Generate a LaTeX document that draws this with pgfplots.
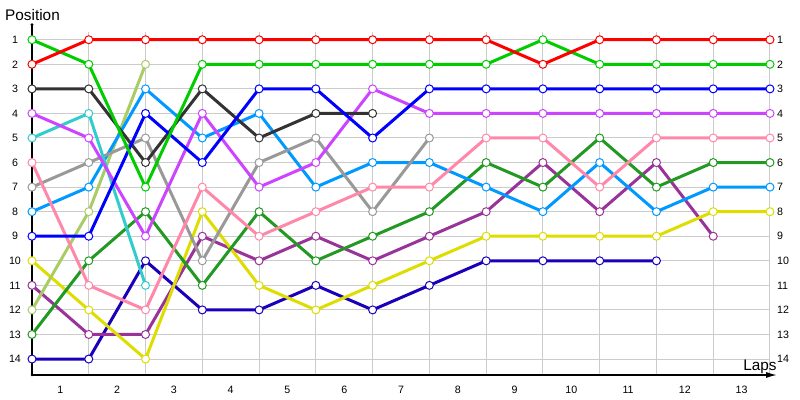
\documentclass[border=0pt]{standalone}
\usepackage{fontspec}
\setmainfont{Liberation Sans}
\usepackage{pgfplots}
\pgfplotsset{compat=1.18}
\usetikzlibrary{arrows.meta}
\definecolor{cred}{HTML}{FF0000}
\definecolor{cgreen}{HTML}{00CC00}
\definecolor{cblue}{HTML}{0000FF}
\definecolor{cdark}{HTML}{333333}
\definecolor{cmag}{HTML}{CC44FF}
\definecolor{ccyan}{HTML}{33CCCC}
\definecolor{cpink}{HTML}{FF88AA}
\definecolor{cgray}{HTML}{999999}
\definecolor{clblue}{HTML}{0099FF}
\definecolor{cdgreen}{HTML}{229922}
\definecolor{colive}{HTML}{AACC66}
\definecolor{cyellow}{HTML}{DDDD00}
\definecolor{cdpurple}{HTML}{993399}
\definecolor{cnavy}{HTML}{1A00BB}
\definecolor{cgrid}{HTML}{CCCCCC}
\pgfplotsset{
  ser/.style={color=#1, line width=2.25pt, mark=*, mark size=3pt,
    mark options={fill=white, line width=0.75pt, solid}},
}
\begin{document}
\begin{tikzpicture}
\begin{axis}[
  scale only axis, width=558.6pt, height=262.5pt,
  xmin=0, xmax=13.12, ymin=0.4, ymax=14.65, y dir=reverse,
  axis lines=none, clip=false,
]
\coordinate (O) at (axis cs:0,14.65);
% grid
\pgfplotsinvokeforeach{1,...,13}{
  \draw[cgrid, line width=0.75pt] (axis cs:#1,0.67) -- (axis cs:#1,14.65);
}
\pgfplotsinvokeforeach{1,...,14}{
  \draw[cgrid, line width=0.75pt] (axis cs:0,#1) -- (axis cs:13,#1);
  \node[font=\fontsize{8}{9}\selectfont] at (axis cs:-0.3,#1) {#1};
  \node[font=\fontsize{8}{9}\selectfont, anchor=west, inner sep=0pt] at (axis cs:13.12,#1) {#1};
}
\pgfplotsinvokeforeach{1,...,13}{
  \node[font=\fontsize{8}{9}\selectfont] at (axis cs:#1-0.5,15.26) {#1};
}
% axes
\draw[black, line width=0.9pt] (axis cs:0,14.65) -- (axis cs:0,0.39);
\fill[black] (axis cs:0,0.39) circle (1.3pt);
\fill[black] (axis cs:0,14.65) circle (1.1pt);
\draw[black, line width=0.9pt, -{Latex[length=8pt,width=4.5pt]}] (axis cs:0,14.65) -- (axis cs:13.12,14.65);
\node[anchor=west, inner sep=0pt, font=\fontsize{11.5}{13}\selectfont] at (axis cs:-0.476,-0.02) {Position};
\node[anchor=east, inner sep=0pt, font=\fontsize{11.5}{13}\selectfont] at (axis cs:13.12,14.33) {Laps};
% series
\addplot[ser=cnavy] coordinates {(0,14)(1,14)(2,10)(3,12)(4,12)(5,11)(6,12)(7,11)(8,10)(9,10)(10,10)(11,10)};
\addplot[ser=cdpurple] coordinates {(0,11)(1,13)(2,13)(3,9)(4,10)(5,9)(6,10)(7,9)(8,8)(9,6)(10,8)(11,6)(12,9)};
\addplot[ser=cyellow] coordinates {(0,10)(1,12)(2,14)(3,8)(4,11)(5,12)(6,11)(7,10)(8,9)(9,9)(10,9)(11,9)(12,8)(13,8)};
\addplot[ser=colive] coordinates {(0,12)(1,8)(2,2)};
\addplot[ser=cdgreen] coordinates {(0,13)(1,10)(2,8)(3,11)(4,8)(5,10)(6,9)(7,8)(8,6)(9,7)(10,5)(11,7)(12,6)(13,6)};
\addplot[ser=clblue] coordinates {(0,8)(1,7)(2,3)(3,5)(4,4)(5,7)(6,6)(7,6)(8,7)(9,8)(10,6)(11,8)(12,7)(13,7)};
\addplot[ser=cgray] coordinates {(0,7)(1,6)(2,5)(3,10)(4,6)(5,5)(6,8)(7,5)};
\addplot[ser=cpink] coordinates {(0,6)(1,11)(2,12)(3,7)(4,9)(5,8)(6,7)(7,7)(8,5)(9,5)(10,7)(11,5)(12,5)(13,5)};
\addplot[ser=ccyan] coordinates {(0,5)(1,4)(2,11)};
\addplot[ser=cmag] coordinates {(0,4)(1,5)(2,9)(3,4)(4,7)(5,6)(6,3)(7,4)(8,4)(9,4)(10,4)(11,4)(12,4)(13,4)};
\addplot[ser=cdark] coordinates {(0,3)(1,3)(2,6)(3,3)(4,5)(5,4)(6,4)};
\addplot[ser=cblue] coordinates {(0,9)(1,9)(2,4)(3,6)(4,3)(5,3)(6,5)(7,3)(8,3)(9,3)(10,3)(11,3)(12,3)(13,3)};
\addplot[ser=cgreen] coordinates {(0,1)(1,2)(2,7)(3,2)(4,2)(5,2)(6,2)(7,2)(8,2)(9,1)(10,2)(11,2)(12,2)(13,2)};
\addplot[ser=cred] coordinates {(0,2)(1,1)(2,1)(3,1)(4,1)(5,1)(6,1)(7,1)(8,1)(9,2)(10,1)(11,1)(12,1)(13,1)};
\end{axis}
\pgfresetboundingbox
\path[use as bounding box] ([shift={(-24pt,-18.75pt)}]O) rectangle ++(600pt,300pt);
\end{tikzpicture}
\end{document}
